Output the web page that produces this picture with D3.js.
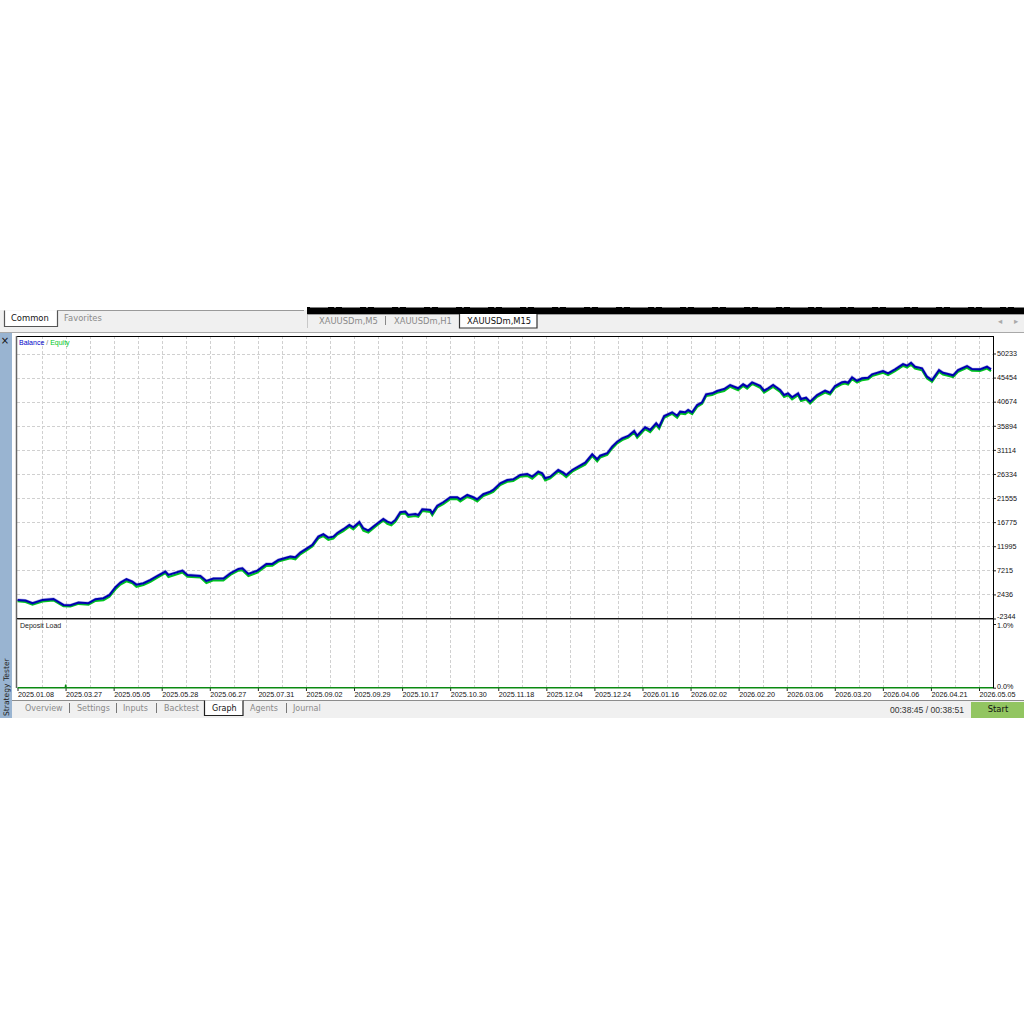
<!DOCTYPE html>
<html>
<head>
<meta charset="utf-8">
<script src="https://cdn.jsdelivr.net/npm/d3@7"></script>
<style>
html, body { margin: 0; padding: 0; background: #fff; }
svg { display: block; }
text { font-family: "Liberation Sans", sans-serif; }
.ui { font-family: "DejaVu Sans", sans-serif; font-size: 8.4px; }
.ui-small { font-family: "DejaVu Sans", sans-serif; font-size: 8px; }
</style>
</head>
<body>
<svg id="chart" width="1024" height="1024"></svg>
<script>
// deal number along the x axis, the tester spaces dates by deals and not by time
const deals = [0,80,150,250,360,460,530,610,710,780,860,920,980,1030,1090,1150,1190,1260,1330,1400,1480,1510,1650,1700,1830,1890,1960,2060,2130,2210,2250,2310,2400,2490,2550,2610,2730,2780,2830,2900,2950,3010,3060,3110,3160,3200,3260,3320,3360,3420,3460,3510,3580,3660,3700,3740,3780,3830,3880,3910,3980,4010,4050,4130,4150,4200,4260,4330,4400,4430,4500,4560,4600,4660,4730,4760,4830,4900,4960,5030,5100,5150,5210,5250,5280,5330,5410,5460,5490,5550,5610,5680,5750,5800,5830,5900,5950,6000,6050,6110,6170,6200,6280,6330,6390,6420,6470,6550,6600,6630,6680,6710,6750,6800,6850,6890,6950,7000,7070,7130,7210,7260,7300,7350,7430,7470,7510,7560,7630,7670,7710,7750,7810,7840,7890,7930,8000,8080,8130,8180,8250,8280,8310,8350,8400,8450,8510,8550,8660,8710,8780,8860,8900,8940,8980,9050,9100,9150,9220,9260,9310,9360,9410,9500,9550,9630,9700,9740];

const balance = [1350,1210,690,1350,1540,350,290,810,690,1480,1680,2340,3860,4780,5450,4970,4380,4660,5310,6110,6960,6300,7160,6300,6110,5110,5570,5570,6640,7490,7630,6500,7160,8480,8480,9280,9930,9810,10730,11600,12250,13900,14370,13700,13900,14630,15370,16220,15760,16810,15560,15090,16220,17410,16870,16560,17210,18740,18860,18200,18400,18200,19330,19190,18540,20050,20720,21710,21710,21310,22170,21710,21310,22310,22820,23160,24490,25140,25280,26130,26330,25800,26790,26470,25480,25800,27120,26590,26130,27120,27780,28570,30240,29250,29960,30440,31750,32740,33410,33870,34860,33930,35590,35060,36390,35710,37830,38570,37890,38690,38570,39020,38570,40010,40550,42140,42330,42790,43190,43980,43330,44120,43640,44520,43840,42850,43330,43980,42990,42000,42330,41540,42330,41200,41460,40670,42000,42850,42450,43780,44520,44640,44440,45510,44830,45310,45430,46100,46760,46300,47090,48140,47810,48400,47610,47290,45630,44970,46950,46420,46160,45900,46950,47750,47150,47090,47610,47090];

const equity = [1100,950,420,1050,1250,100,60,560,400,1150,1300,2000,3450,4400,5050,4650,3950,4300,4950,5750,6650,5900,6800,5950,5800,4700,5250,5200,6300,7150,7250,6100,6750,8100,8150,8950,9600,9400,10400,11250,11950,13550,14000,13250,13500,14300,15000,15900,15350,16500,15100,14700,15850,17100,16450,16150,16850,18400,18500,17800,18000,17850,19000,18800,18150,19700,20350,21350,21350,20900,21800,21350,20900,21950,22500,22800,24150,24800,24950,25800,25950,25400,26450,26050,25050,25450,26800,26200,25700,26800,27450,28200,29900,28850,29600,30100,31400,32400,33050,33550,34500,33500,35250,34650,36050,35300,37500,38250,37500,38350,38200,38650,38200,39650,40250,41800,42000,42450,42800,43650,42950,43800,43250,44200,43450,42450,42950,43600,42600,41600,41950,41150,41950,40800,41100,40300,41650,42500,42100,43450,44150,44300,44100,45150,44450,44950,45100,45750,46400,45950,46750,47800,47450,48000,47250,46900,45250,44600,46600,46050,45800,45550,46600,47400,46800,46750,47250,46750];

// deposit load stays at zero apart from one small spike
const loadDeals = [0,478,482,486,9760];
const loadValues = [0,0,0.05,0,0];

const valueTicks = [50233,45454,40674,35894,31114,26334,21555,16775,11995,7215,2436,-2344];
const loadTicks = [1,0];
const dateLabels = ['2025.01.08','2025.03.27','2025.05.05','2025.05.28','2025.06.27','2025.07.31','2025.09.02','2025.09.29','2025.10.17','2025.10.30','2025.11.18','2025.12.04','2025.12.24','2026.01.16','2026.02.02','2026.02.20','2026.03.06','2026.03.20','2026.04.06','2026.04.21','2026.05.05'];
const dealsPerLabel = 481;

const topTabs = [['Common', 11, true], ['Favorites', 64, false]];
const chartTabs = [['XAUUSDm,M5', 319, false], ['XAUUSDm,H1', 394, false], ['XAUUSDm,M15', 467, true]];
const bottomTabs = [['Overview', 25, false], ['Settings', 77, false], ['Inputs', 123, false], ['Backtest', 164, false], ['Graph', 212, true], ['Agents', 250, false], ['Journal', 293, false]];

const plotLeft = 17, plotRight = 993, plotTop = 336, mainBottom = 618.5, loadTop = 620, loadBottom = 688;

const svg = d3.select('#chart');

const x = d3.scaleLinear().domain([0, 9760]).range([17.5, plotRight]);
const y = d3.scaleLinear().domain([-2344, 50233]).range([mainBottom, 353.5]);
const yLoad = d3.scaleLinear().domain([0, 1]).range([687.7, 624]);

// window chrome behind the chart
function rect(px, py, w, h, fill) {
    return svg.append('rect').attr('x', px).attr('y', py).attr('width', w).attr('height', h).attr('fill', fill);
}
function openTab(x0, y0, x1, y1, edge) {
    rect(x0, y0, x1 - x0, y1 - y0, '#fff');
    svg.append('path').attr('d', `M${x0},${y0}V${y1}H${x1}V${y0}`).attr('fill', 'none').attr('stroke', edge).attr('stroke-width', 1.2);
}
rect(0, 310, 1024, 22, '#f0f0f0');
rect(0, 332, 1024, 1, '#a9a9a9');
rect(57, 310, 247, 1, '#9a9a9a');
rect(307, 307, 717, 7, '#000');
rect(307, 314, 717, 1, '#a0a0a0');
rect(307, 315, 1, 13, '#c8c8c8');
svg.append('line').attr('x1', 310).attr('x2', 1024).attr('y1', 307).attr('y2', 307)
    .attr('stroke', '#fff').attr('stroke-width', 1).attr('stroke-dasharray', '18 6 2 6');
rect(0, 333, 12, 385, '#99b4d1');
rect(12, 700, 1012, 18, '#f0f0f0');
rect(12, 700, 1012, 1, '#8c8c8c');

// tab boxes
openTab(4.5, 310.5, 57.5, 326.5, '#555');
openTab(459.5, 314, 537, 328, '#333');
openTab(204.5, 700.5, 243, 715.5, '#222');
rect(385, 316, 1, 9, '#888');
[69, 116, 156, 286].forEach(sx => rect(sx, 703, 1, 10, '#777'));

function tabLabels(list, py, cls) {
    svg.append('g').selectAll('text').data(list).join('text')
        .attr('class', cls)
        .attr('x', d => d[1])
        .attr('y', py)
        .attr('fill', d => d[2] ? '#111' : '#8a8a8a')
        .text(d => d[0]);
}
tabLabels(topTabs, 321, 'ui');
tabLabels(chartTabs, 324, 'ui');
tabLabels(bottomTabs, 711, 'ui-small');

svg.append('text').attr('class', 'ui').attr('x', 1000).attr('y', 324).attr('text-anchor', 'middle').attr('fill', '#aaa').text('◂');
svg.append('text').attr('class', 'ui').attr('x', 1016).attr('y', 324).attr('text-anchor', 'middle').attr('fill', '#aaa').text('▸');

rect(971, 702, 53, 16, '#92c561');
svg.append('text').attr('class', 'ui').attr('x', 998).attr('y', 712).attr('text-anchor', 'middle').attr('fill', '#111').text('Start');
svg.append('text').attr('x', 964).attr('y', 713).attr('text-anchor', 'end').attr('fill', '#333').attr('font-size', 8.6).text('00:38:45 / 00:38:51');
svg.append('text').attr('class', 'ui').attr('x', 5).attr('y', 344).attr('text-anchor', 'middle').attr('fill', '#111').style('font-size', '10px').text('×');
svg.append('text').attr('class', 'ui').attr('transform', 'translate(9,716) rotate(-90)').attr('fill', '#222').style('font-size', '7.6px').text('Strategy Tester');

// grid
const grid = svg.append('g').attr('stroke', '#d0d0d0').attr('stroke-width', 1).attr('stroke-dasharray', '3 2');
d3.range(1, 41).forEach(i => {
    const gx = Math.round(x(i * dealsPerLabel / 2)) + 0.5;
    grid.append('line').attr('x1', gx).attr('x2', gx).attr('y1', plotTop).attr('y2', mainBottom);
    grid.append('line').attr('x1', gx).attr('x2', gx).attr('y1', loadTop).attr('y2', loadBottom);
});
valueTicks.slice(0, -1).forEach(v => {
    const gy = Math.round(y(v)) + 0.5;
    grid.append('line').attr('x1', plotLeft).attr('x2', plotRight).attr('y1', gy).attr('y2', gy);
});

// axes
const yAxis = d3.axisRight(y).tickValues(valueTicks).tickFormat(d => d).tickSize(3).tickPadding(1);
const loadAxis = d3.axisRight(yLoad).tickValues(loadTicks).tickFormat(d => d.toFixed(1) + '%').tickSize(3).tickPadding(1);
const xAxis = d3.axisBottom(x)
    .tickValues(dateLabels.map((d, i) => i * dealsPerLabel))
    .tickFormat((d, i) => dateLabels[i])
    .tickSize(3).tickPadding(1);

function styleAxis(g) {
    g.select('.domain').remove();
    g.selectAll('line').attr('stroke', '#222');
    g.selectAll('text').attr('fill', '#111').attr('font-size', 7.2).attr('font-family', '"Liberation Sans", sans-serif');
}
const valueAxisG = svg.append('g').attr('transform', `translate(${plotRight},0)`).call(yAxis).call(styleAxis);
const loadAxisG = svg.append('g').attr('transform', `translate(${plotRight},0)`).call(loadAxis).call(styleAxis);
svg.append('g').attr('transform', `translate(0,${loadBottom})`).call(xAxis).call(styleAxis)
    .selectAll('text').attr('text-anchor', 'start').attr('dy', '0.75em');

// these labels sit almost on top of each other in the tester, pull them apart a little
valueAxisG.selectAll('.tick').filter(d => d === -2344).select('text').attr('dy', '-0.05em');
loadAxisG.selectAll('.tick').filter(d => d === 1).select('text').attr('dy', '0.55em');
loadAxisG.selectAll('.tick').filter(d => d === 0).select('text').attr('dy', '0.1em');

// curves
const points = vals => vals.map((v, i) => [deals[i], v]);
const line = d3.line().x(d => x(d[0])).y(d => y(d[1]));
svg.append('path').attr('d', line(points(equity))).attr('fill', 'none').attr('stroke', '#00c81e').attr('stroke-width', 2.1);
svg.append('path').attr('d', line(points(balance))).attr('fill', 'none').attr('stroke', '#0000b4').attr('stroke-opacity', 0.25).attr('stroke-width', 3.2);
svg.append('path').attr('d', line(points(balance))).attr('fill', 'none').attr('stroke', '#0000b0').attr('stroke-width', 2);

const loadLine = d3.line().x(d => x(d[0])).y(d => yLoad(d[1]));
svg.append('path').attr('d', loadLine(loadValues.map((v, i) => [loadDeals[i], v])))
    .attr('fill', 'none').attr('stroke', '#0b8a12').attr('stroke-width', 1.4);

// frame
const frame = svg.append('g').attr('fill', 'none');
frame.append('line').attr('x1', plotLeft).attr('x2', plotRight).attr('y1', plotTop + 0.5).attr('y2', plotTop + 0.5).attr('stroke', '#000');
frame.append('line').attr('x1', plotRight + 0.5).attr('x2', plotRight + 0.5).attr('y1', plotTop).attr('y2', loadBottom).attr('stroke', '#000');
frame.append('line').attr('x1', plotLeft - 0.5).attr('x2', plotLeft - 0.5).attr('y1', plotTop).attr('y2', loadBottom).attr('stroke', '#666').attr('stroke-width', 1.5);
frame.append('line').attr('x1', plotLeft).attr('x2', plotRight).attr('y1', 618.5).attr('y2', 618.5).attr('stroke', '#111');
frame.append('line').attr('x1', plotLeft).attr('x2', plotRight).attr('y1', 619.5).attr('y2', 619.5).attr('stroke', '#999');

// legend
const legend = svg.append('text').attr('x', 19).attr('y', 345).attr('font-size', 7);
legend.append('tspan').attr('fill', '#0000c8').text('Balance');
legend.append('tspan').attr('fill', '#777').text(' / ');
legend.append('tspan').attr('fill', '#00c81e').text('Equity');
svg.append('text').attr('x', 20).attr('y', 628).attr('font-size', 7).attr('fill', '#222').text('Deposit Load');
</script>
</body>
</html>
